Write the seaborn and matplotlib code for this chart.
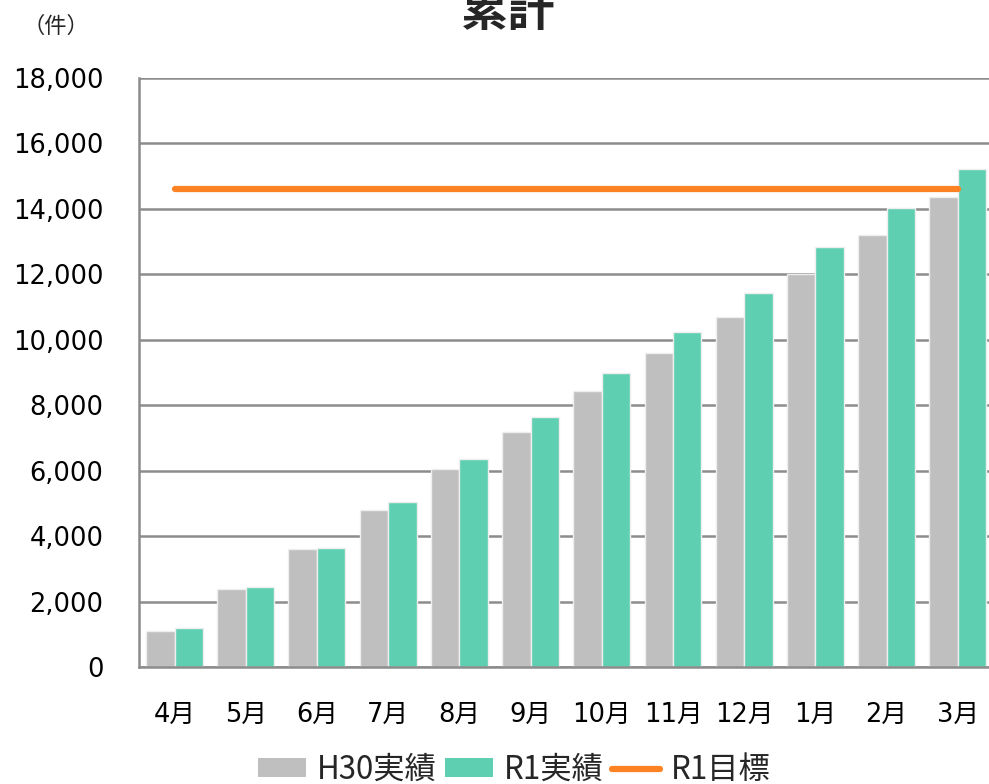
import matplotlib
matplotlib.use("Agg")
import matplotlib.pyplot as plt
import seaborn as sns
import pandas as pd
from matplotlib.ticker import FuncFormatter, FixedLocator
from matplotlib.patches import Patch
from matplotlib.lines import Line2D

months = ["4月", "5月", "6月", "7月", "8月", "9月", "10月", "11月", "12月", "1月", "2月", "3月"]
h30_actual = [1100, 2380, 3600, 4810, 6060, 7190, 8440, 9600, 10710, 12000, 13200, 14370]
r1_actual = [1190, 2440, 3640, 5040, 6360, 7640, 8990, 10240, 11440, 12840, 14020, 15230]
r1_target = 14600
series_names = ["H30実績", "R1実績", "R1目標"]

sns.set_theme(style="white")
plt.rcParams["font.family"] = ["DejaVu Sans", "Noto Sans CJK JP"]
cjk = ["Noto Sans CJK JP", "DejaVu Sans"]

df = pd.DataFrame({
    "month": months * 2,
    "value": h30_actual + r1_actual,
    "series": [series_names[0]] * len(months) + [series_names[1]] * len(months),
})

colors = {"H30実績": "#bfbfbf", "R1実績": "#5ecfb1"}
line_color = "#fd8224"
grid_color = "#8c8c8c"

fig = plt.figure(figsize=(9.89, 7.84), dpi=100)
ax = fig.add_axes([0.1405, 0.1492, 0.864, 0.7513])

sns.barplot(data=df, x="month", y="value", hue="series", palette=colors,
            saturation=1, width=0.8, gap=0, edgecolor="#eeeeee", linewidth=1.0,
            legend=False, ax=ax, order=months)

ax.plot([0, len(months) - 1], [r1_target, r1_target], color=line_color,
        linewidth=4.5, solid_capstyle="round", zorder=5)

ax.set_xlim(-0.5, len(months) - 0.5)
ax.set_ylim(0, 18000)
ax.set_yticks(range(0, 18001, 2000))
ax.yaxis.set_major_formatter(FuncFormatter(lambda v, p: f"{int(v):,}"))
ax.grid(axis="y", color=grid_color, linewidth=1.8)
ax.set_axisbelow(True)

ax.set_xlabel("")
ax.set_ylabel("")
for side in ("top", "right"):
    ax.spines[side].set_visible(False)
for side in ("left", "bottom"):
    ax.spines[side].set_color(grid_color)
    ax.spines[side].set_linewidth(1.8)

ax.xaxis.set_minor_locator(FixedLocator([i - 0.5 for i in range(len(months) + 1)]))
ax.tick_params(axis="x", which="major", length=0, pad=25, labelsize=18.5, colors="black")
ax.tick_params(axis="x", which="minor", length=7, width=1.8, color=grid_color, direction="out")
ax.tick_params(axis="y", which="major", length=6.5, width=1.8, color=grid_color,
               direction="out", pad=19, labelsize=18.5, colors="black")
for lbl in ax.get_xticklabels() + ax.get_yticklabels():
    lbl.set_color("black")

fig.text(0.514, 0.985, "累計", ha="center", va="center", fontsize=34,
         fontweight="bold", family=cjk)
fig.text(0.056, 0.966, "（件）", ha="center", va="center", fontsize=16, family=cjk)

handles = [
    Patch(facecolor=colors["H30実績"], edgecolor="none"),
    Patch(facecolor=colors["R1実績"], edgecolor="none"),
    Line2D([0], [0], color=line_color, linewidth=4.5, solid_capstyle="round"),
]
fig.legend(handles, series_names, loc="center", bbox_to_anchor=(0.52, 0.018),
           ncol=3, frameon=False, handlelength=1.55, handleheight=0.55,
           handletextpad=0.35, columnspacing=0.25,
           prop={"family": cjk, "size": 22.5})

fig.savefig("out.png", dpi=100)
